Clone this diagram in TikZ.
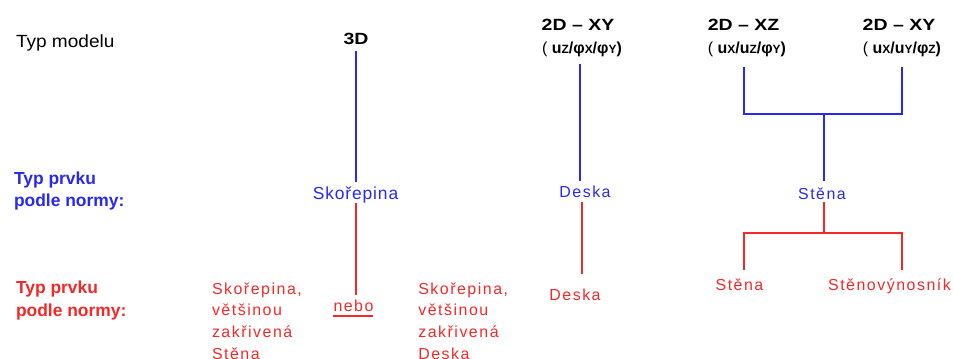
\documentclass[tikz,border=0pt]{standalone}
\usepackage{fontspec}
\setmainfont{Liberation Sans}
\newfontfamily\hdrfont[FakeStretch=1.2]{Liberation Sans}
\newfontfamily\tmfont[FakeStretch=1.08]{Liberation Sans}
\newfontfamily\spaced[LetterSpace=9.5]{Liberation Sans}
\newfontfamily\spacedb[LetterSpace=5]{Liberation Sans}
\definecolor{blu}{RGB}{40,40,245}
\definecolor{rd}{RGB}{245,40,40}
\newcommand{\sm}[1]{{\fontsize{12}{12}\selectfont #1}}
\begin{document}
\begin{tikzpicture}[x=1bp,y=-1bp,
  every node/.style={inner sep=0pt,outer sep=0pt},
  lbl/.style={font=\fontsize{17.7}{20}\selectfont\tmfont, anchor=base west},
  hdr/.style={font=\fontsize{16.3}{20}\selectfont\hdrfont\bfseries, anchor=base},
  sub/.style={font=\fontsize{16}{18}\selectfont\bfseries, anchor=base},
  side/.style={font=\fontsize{17.5}{22.7}\selectfont\bfseries, anchor=base west, align=left},
  bl/.style={blu, line width=1.5bp},
  rl/.style={rd, line width=1.5bp},
  btxt/.style={text=blu, font=\fontsize{16}{22}\selectfont\spaced, anchor=base},
  rtxt/.style={text=rd, font=\fontsize{16}{21.8}\selectfont\spaced, anchor=base},
]
\useasboundingbox (0,0) rectangle (953,358);

% left labels (base anchor of a multi-line node = last line)
\node[lbl] (tm) at (16,47.7) {Typ modelu};
\node[side, text=blu] (tp1) at (14,206.7) {Typ prvku\\podle normy:};
\node[side, text=rd] (tp2) at (16,316.3) {Typ prvku\\podle normy:};

% model headers
\node[hdr] (d3) at (356,44.3) {3D};
\node[hdr] (xy1) at (578,30) {2D – XY};
\node[sub] (xy1s) at (582,53.3) {{\mdseries(} u\sm{Z}/φ\sm{X}/φ\sm{Y})};
\node[hdr] (xz) at (743.5,30) {2D – XZ};
\node[sub] (xzs) at (747,53.3) {{\mdseries(} u\sm{X}/u\sm{Z}/φ\sm{Y})};
\node[hdr] (xy2) at (899,30) {2D – XY};
\node[sub] (xy2s) at (902,53.3) {{\mdseries(} u\sm{X}/u\sm{Y}/φ\sm{Z})};

% blue element types
\node[btxt, font=\fontsize{17.5}{20}\selectfont\spacedb] (sk) at (355.5,199.3) {Skořepina};
\node[btxt] (de) at (585,197.3) {Deska};
\node[btxt] (st) at (822,199) {Stěna};

% red element types
\node[rtxt, anchor=base west, align=left] (r1) at (212,359.4) {Skořepina,\\většinou\\zakřivená\\Stěna};
\node[rtxt, anchor=base west, align=left] (r2) at (418.3,359.4) {Skořepina,\\většinou\\zakřivená\\Deska};
\node[rtxt] (nebo) at (353.5,311.7) {nebo};
\node[rtxt] (rde) at (575,300) {Deska};
\node[rtxt] (rst1) at (739.5,290.7) {Stěna};
\node[rtxt] (rst2) at (889.5,290.7) {Stěnovýnosník};

% coordinates for lines and forks
\coordinate (a1) at (356,50.7);  \coordinate (a2) at (356,181.7);
\coordinate (a3) at (356,203);   \coordinate (a4) at (356,295);
\coordinate (b1) at (580,64);    \coordinate (b2) at (580,180.7);
\coordinate (b3) at (582,202);   \coordinate (b4) at (582,274);
\coordinate (xzb) at (744,66.7); \coordinate (xy2b) at (902,66.7);
\coordinate (bj) at (824,114);   \coordinate (bs) at (824,180.7);
\coordinate (rs) at (824,202);   \coordinate (rj) at (824,233);
\coordinate (rl1) at (744,270);  \coordinate (rl2) at (902,270);
\coordinate (u1) at (333,316);   \coordinate (u2) at (372.7,316);

% connectors
\draw[bl] (a1) -- (a2);
\draw[rl] (a3) -- (a4);
\draw[rd, line width=1.2bp] (u1) -- (u2);
\draw[bl] (b1) -- (b2);
\draw[rl] (b3) -- (b4);
\draw[bl] (xzb) |- (bj) -| (xy2b);
\draw[bl] (bj) -- (bs);
\draw[rl] (rs) -- (rj);
\draw[rl] (rl1) |- (rj) -| (rl2);
\end{tikzpicture}
\end{document}
